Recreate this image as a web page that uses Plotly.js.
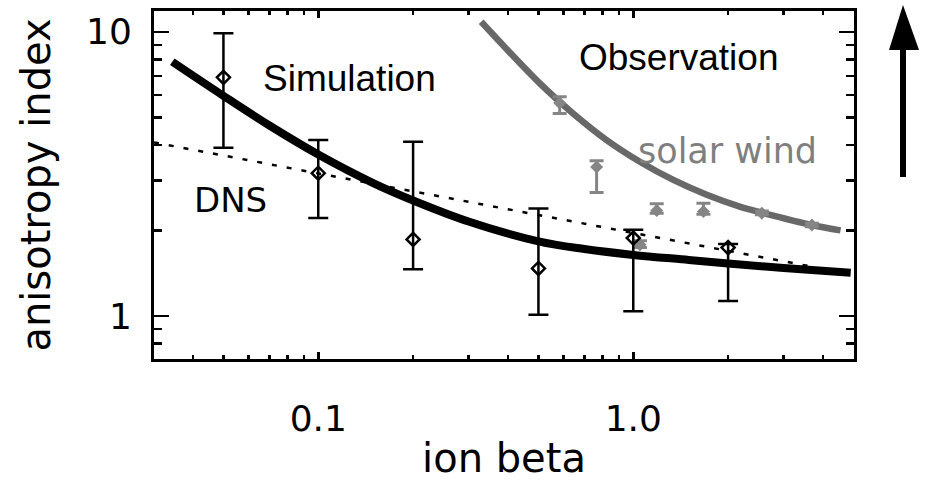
<!DOCTYPE html>
<html><head><meta charset="utf-8">
<script src="https://cdn.plot.ly/plotly-3.0.1.min.js"></script>
<style>html,body{margin:0;padding:0;background:#fff}#chart{width:933px;height:481px}</style>
</head><body><div id="chart"></div>
<script>
// ---- data ----
const simBeta  = [0.05, 0.1, 0.2, 0.5, 1.0, 2.0];
const simIndex = [6.91, 3.18, 1.86, 1.47, 1.88, 1.74];
const simUpper = [9.87, 4.16, 4.10, 2.39, 2.01, 1.79];
const simLower = [3.91, 2.21, 1.46, 1.01, 1.04, 1.13];

const obsBeta  = [0.584, 0.765, 1.05, 1.187, 1.67, 2.56, 3.69];
const obsIndex = [5.61, 3.34, 1.78, 2.35, 2.33, 2.30, 2.09];
const obsUpper = [5.91, 3.52, 1.84, 2.48, 2.49, 2.34, 2.12];
const obsLower = [5.16, 2.72, 1.74, 2.30, 2.28, 2.27, 2.06];

const simFitBeta  = [0.0344, 0.05, 0.07, 0.1, 0.15, 0.2, 0.3, 0.5, 0.7, 1.0, 1.5, 2.0, 3.0, 4.9];
const simFitIndex = [7.84, 5.95, 4.68, 3.70, 2.93, 2.55, 2.15, 1.83, 1.72, 1.64, 1.575, 1.53, 1.475, 1.42];

const obsFitBeta  = [0.329, 0.505, 0.644, 0.823, 1.05, 1.34, 1.71, 2.19, 2.56, 3.69, 4.55];
const obsFitIndex = [10.84, 6.58, 5.16, 4.16, 3.49, 3.01, 2.67, 2.42, 2.31, 2.09, 2.0];

const dnsBeta  = [0.0301, 3.59];
const dnsIndex = [4.08, 1.50];

const xTickVals = [0.1, 1];
const xTickText = ['0.1', '1.0'];
const xMinorVals = [0.04,0.05,0.06,0.07,0.08,0.09,0.2,0.3,0.4,0.5,0.6,0.7,0.8,0.9,2,3,4,5];
const yTickVals = [1, 10];
const yTickText = ['1', '10'];
const yMinorVals = [0.7,0.8,0.9,2,3,4,5,6,7,8,9];

const xRange = [0.0301, 5.02];
const yRange = [0.7058, 11.83];

// ---- traces ----
const diff = (a, b) => a.map((v, i) => +(v - b[i]).toFixed(3));

const traces = [
  { x: dnsBeta, y: dnsIndex, mode: 'lines', name: 'DNS',
    line: { color: '#000', width: 2.5, dash: '5px,10px' }, hoverinfo: 'skip' },
  { x: obsFitBeta, y: obsFitIndex, mode: 'lines', name: 'Observation fit',
    line: { color: '#686868', width: 6.5, shape: 'spline' } },
  { x: simFitBeta, y: simFitIndex, mode: 'lines', name: 'Simulation fit',
    line: { color: '#000', width: 8, shape: 'spline' } },
  { x: obsBeta, y: obsIndex, mode: 'markers', name: 'solar wind',
    marker: { symbol: 'diamond', size: 10, color: '#858585' },
    error_y: { type: 'data', symmetric: false, array: diff(obsUpper, obsIndex),
      arrayminus: diff(obsIndex, obsLower), color: '#858585', thickness: 3, width: 7 } },
  { x: simBeta, y: simIndex, mode: 'markers', name: 'Simulation',
    marker: { symbol: 'diamond-open', size: 10, color: '#000', line: { width: 2.5, color: '#000' } },
    error_y: { type: 'data', symmetric: false, array: diff(simUpper, simIndex),
      arrayminus: diff(simIndex, simLower), color: '#000', thickness: 2.5, width: 10 } }
];

const axisCommon = {
  type: 'log', ticks: 'inside', tickwidth: 2.5, tickcolor: '#000',
  showline: true, linewidth: 3, linecolor: '#000', mirror: 'ticks',
  showgrid: false, zeroline: false, automargin: false,
  tickfont: { family: 'DejaVu Sans', size: 36, color: '#000' }
};

const layout = {
  width: 933, height: 481,
  margin: { l: 154, r: 79, t: 11, b: 122, pad: 0 },
  paper_bgcolor: '#fff', plot_bgcolor: '#fff',
  showlegend: false,
  xaxis: Object.assign({}, axisCommon, {
    range: xRange.map(Math.log10),
    tickmode: 'array', tickvals: xTickVals, ticktext: xTickText,
    ticklen: 7, ticklabelstandoff: 26,
    minor: { tickmode: 'array', tickvals: xMinorVals, ticks: 'inside', ticklen: 4,
             tickwidth: 2.5, tickcolor: '#000', showgrid: false },
    title: { text: 'ion beta', font: { family: 'DejaVu Sans', size: 40, color: '#000' }, standoff: 10 }
  }),
  yaxis: Object.assign({}, axisCommon, {
    range: yRange.map(Math.log10),
    tickmode: 'array', tickvals: yTickVals, ticktext: yTickText,
    ticklen: 15, ticklabelstandoff: 12,
    minor: { tickmode: 'array', tickvals: yMinorVals, ticks: 'inside', ticklen: 8,
             tickwidth: 2.5, tickcolor: '#000', showgrid: false },
    title: { text: 'anisotropy index', font: { family: 'DejaVu Sans', size: 40, color: '#000' }, standoff: 23 }
  }),
  annotations: [
    { text: 'Simulation', xref: 'paper', yref: 'paper', x: 0.2786, y: 0.806,
      xanchor: 'center', yanchor: 'middle',
      showarrow: false, font: { family: 'Liberation Sans', size: 37, color: '#000' } },
    { text: 'Observation', xref: 'paper', yref: 'paper', x: 0.75, y: 0.866,
      xanchor: 'center', yanchor: 'middle',
      showarrow: false, font: { family: 'Liberation Sans', size: 37, color: '#000' } },
    { text: 'solar wind', xref: 'paper', yref: 'paper', x: 0.819, y: 0.598,
      xanchor: 'center', yanchor: 'middle',
      showarrow: false, font: { family: 'DejaVu Sans', size: 35, color: '#7f7f7f' } },
    { text: 'DNS', xref: 'paper', yref: 'paper', x: 0.1086, y: 0.4555,
      xanchor: 'center', yanchor: 'middle',
      showarrow: false, font: { family: 'DejaVu Sans', size: 34, color: '#000' } }
  ],
  shapes: [
    { type: 'line', xref: 'paper', yref: 'paper', x0: 1.07, x1: 1.07, y0: 0.523, y1: 0.9,
      line: { color: '#000', width: 6 } },
    { type: 'path', xref: 'paper', yref: 'paper',
      path: 'M 1.05 0.888 L 1.0929 0.888 L 1.07 1.0172 Z',
      fillcolor: '#000', line: { color: '#000', width: 0 } }
  ]
};

Plotly.newPlot('chart', traces, layout, { displayModeBar: false, staticPlot: true });
</script>
</body></html>
